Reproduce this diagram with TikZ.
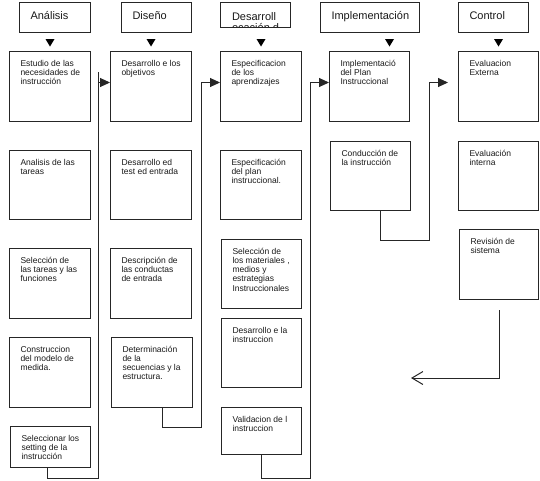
\documentclass[tikz,border=0pt]{standalone}
\usepackage{fontspec}
\setmainfont{Liberation Sans}
\usetikzlibrary{arrows.meta,calc}
\newcommand{\bt}[3]{\begin{minipage}[c][#2pt][t]{#1pt}\raggedright\leftskip=11pt\vspace*{8pt}\strut#3\end{minipage}}
\begin{document}
\begin{tikzpicture}[x=1pt,y=-1pt,
  bx/.style={draw=black!85, line width=1pt, inner sep=0pt, anchor=north west,
    font=\fontsize{8.5}{9.3}\selectfont, text=black!90},
  hd/.style={bx, font=\fontsize{11}{13}\selectfont},
  conn/.style={draw=black!85, line width=1pt},
  arr/.style={conn, -{Triangle[length=10pt,width=9pt]}},
  barb/.style={conn, -{Straight Barb[length=11pt,width=13pt]}},
  tri/.style={fill=black}]
\useasboundingbox (0,0) rectangle (540,480);

% headers
\node[hd] (hA) at (19,2) {\bt{71}{30}{Análisis}};
\node[hd] (hD) at (121,2) {\bt{70}{30}{Diseño}};
\node[hd, minimum width=70pt, minimum height=25pt,
  path picture={\node[anchor=north west, inner sep=0pt, font=\fontsize{11}{13}\selectfont, text=black!90]
    at (path picture bounding box.north west) {\bt{70}{40}{Desarroll\\[-2pt]ocación d}};}] (hE) at (220,2) {};
\node[hd] (hI) at (320,2) {\bt{99}{30}{Implementación}};
\node[hd] (hC) at (458,2) {\bt{70}{30}{Control}};

% column 1
\node[bx] (a1) at (9,51) {\bt{81}{70}{Estudio de las\\necesidades de\\instrucción}};
\node[bx] (a2) at (9,150) {\bt{81}{69}{Analisis de las\\tareas}};
\node[bx] (a3) at (9,248) {\bt{81}{70}{Selección de\\las tareas y las\\funciones}};
\node[bx] (a4) at (9,337) {\bt{81}{70}{Construccion\\del modelo de\\medida.}};
\node[bx] (a5) at (10,426) {\bt{80}{41}{Seleccionar los\\setting de la\\instrucción}};

% column 2
\node[bx] (b1) at (110,51) {\bt{81}{70}{Desarrollo e los\\objetivos}};
\node[bx] (b2) at (110,150) {\bt{81}{69}{Desarrollo ed\\test ed entrada}};
\node[bx] (b3) at (110,248) {\bt{81}{70}{Descripción de\\las conductas\\de entrada}};
\node[bx] (b4) at (111,337) {\bt{81}{70}{Determinación\\de la\\secuencias y la\\estructura.}};

% column 3
\node[bx] (c1) at (220,51) {\bt{81}{70}{Especificacion\\de los\\aprendizajes}};
\node[bx] (c2) at (220,150) {\bt{81}{69}{Especificación\\del plan\\instruccional.}};
\node[bx] (c3) at (221,239) {\bt{80}{69}{Selección de\\los materiales ,\\medios y\\estrategias\\Instruccionales}};
\node[bx] (c4) at (221,318) {\bt{80}{69}{Desarrollo e la\\instruccion}};
\node[bx] (c5) at (221,407) {\bt{80}{47}{Validacion de l\\instruccion}};

% column 4
\node[bx] (d1) at (329,51) {\bt{80}{70}{Implementació\\del Plan\\Instruccional}};
\node[bx] (d2) at (330,141) {\bt{80}{69}{Conducción de\\la instrucción}};

% column 5
\node[bx] (e1) at (458,51) {\bt{80}{70}{Evaluacion\\Externa}};
\node[bx] (e2) at (458,141) {\bt{80}{69}{Evaluación\\interna}};
\node[bx] (e3) at (459,229) {\bt{79}{70}{Revisión de\\sistema}};

% triangles under headers
\fill[tri] ($(a1.north)+(-4.5,-12)$) -- ++(9,0) -- ++(-4.5,7.5) -- cycle;
\fill[tri] ($(b1.north)+(-4.5,-12)$) -- ++(9,0) -- ++(-4.5,7.5) -- cycle;
\fill[tri] ($(c1.north)+(-4.5,-12)$) -- ++(9,0) -- ++(-4.5,7.5) -- cycle;
\fill[tri] ($(d1.north)+(15.5,-12)$) -- ++(9,0) -- ++(-4.5,7.5) -- cycle;
\fill[tri] ($(e1.north)+(-4.5,-12)$) -- ++(9,0) -- ++(-4.5,7.5) -- cycle;

% connectors
\coordinate (v1) at (98,72);
\draw[conn] ($(a5.south)+(-3,0)$) -- ++(0,10) -| (v1);
\draw[arr] ($(b1.west)+(-12,-4)$) -- ($(b1.west)+(0,-4)$);

\draw[arr] ($(b4.south)+(10,0)$) -- ++(0,19) -| ($(c1.west)+(-19,-4)$) -- ($(c1.west)+(0,-4)$);

\draw[arr] (c5.south) -- ++(0,23) -| ($(d1.west)+(-19,-4)$) -- ($(d1.west)+(0,-4)$);

\draw[arr] ($(d2.south)+(10,0)$) -- ++(0,29) -| ($(e1.west)+(-29,-4)$) -- ($(e1.west)+(-10,-4)$);

\coordinate (ret) at (411,378);
\draw[barb] ($(e3.south)+(0,10)$) |- (ret);
\end{tikzpicture}
\end{document}
